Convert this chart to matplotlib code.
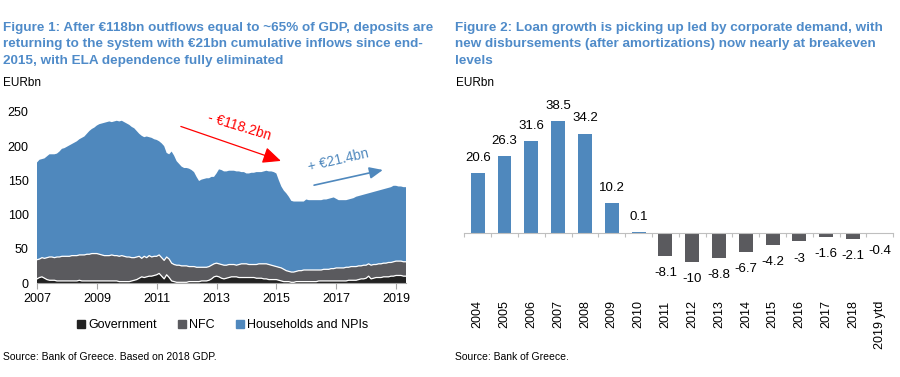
import numpy as np
import pandas as pd
import matplotlib
matplotlib.use('Agg')
import matplotlib.pyplot as plt
import matplotlib.transforms as mtransforms
from matplotlib.lines import Line2D

plt.rcParams['font.family'] = ['Liberation Sans', 'DejaVu Sans']

# ---- Figure 1 data: deposits by sector, EURbn, monthly Jan-2007 .. May-2019
total = [176, 180, 181, 182, 185, 188, 188, 188, 189, 192, 196, 197,
         199, 201, 203, 205, 207, 210, 212, 214, 218, 222, 225, 227,
         230, 232, 233, 234, 235, 236, 235, 236, 237, 236, 237, 235,
         233, 231, 228, 226, 222, 218, 215, 213, 214, 213, 212, 210,
         209, 207, 204, 200, 190, 188, 192, 186, 178, 174, 170, 168,
         168, 167, 165, 162, 155, 149, 151, 152, 153, 153, 155, 155,
         160, 166, 165, 163, 163, 164, 164, 164, 163, 163, 162, 162,
         160, 160, 161, 161, 162, 162, 162, 163, 164, 163, 163, 162,
         160, 150, 141, 135, 131, 126, 120, 119, 119, 119, 119, 119,
         122, 121, 121, 121, 121, 121, 121, 122, 122, 123, 124, 125,
         123, 121, 121, 121, 121, 122, 123, 124, 126, 127, 128, 129,
         130, 131, 132, 133, 134, 135, 136, 137, 138, 139, 140, 142,
         142, 141, 141, 140, 140]
gov_nfc = [34, 35, 37, 36, 37, 38, 38, 37, 38, 38, 39, 39,
           39, 39, 40, 40, 40, 41, 41, 41, 42, 42, 43, 43,
           43, 42, 41, 40, 40, 40, 41, 40, 40, 39, 40, 39,
           38, 38, 37, 37, 38, 39, 36, 39, 37, 40, 38, 39,
           39, 41, 37, 33, 38, 35, 29, 27, 26, 26, 25, 25,
           25, 24, 24, 24, 23, 23, 23, 23, 23, 24, 26, 28,
           29, 28, 27, 26, 26, 27, 27, 27, 26, 27, 28, 28,
           28, 27, 27, 27, 27, 28, 28, 28, 28, 27, 26, 25,
           24, 23, 22, 20, 18, 17, 16, 16, 17, 18, 18, 19,
           19, 19, 19, 19, 19, 19, 19, 20, 20, 20, 21, 21,
           22, 22, 22, 22, 23, 23, 24, 24, 24, 25, 25, 26,
           26, 28, 26, 27, 27, 28, 28, 29, 29, 30, 30, 31,
           32, 32, 32, 31, 31]
government = [6, 8, 9, 7, 5, 4, 4, 4, 3, 3, 3, 3,
              3, 3, 3, 3, 3, 4, 3, 3, 3, 3, 3, 3,
              3, 3, 3, 3, 3, 3, 3, 3, 3, 2, 2, 2,
              2, 2, 3, 4, 5, 7, 9, 8, 9, 10, 10, 11,
              12, 14, 10, 6, 12, 8, 3, 2, 1, 1, 1, 1,
              1, 2, 2, 2, 2, 2, 3, 3, 3, 4, 6, 9,
              10, 9, 7, 6, 7, 8, 9, 9, 9, 8, 8, 8,
              8, 8, 8, 8, 7, 7, 7, 6, 6, 5, 5, 5,
              5, 4, 3, 2, 2, 2, 1, 1, 2, 2, 2, 2,
              2, 2, 2, 2, 2, 3, 3, 3, 3, 3, 3, 3,
              3, 3, 3, 3, 3, 4, 4, 4, 4, 5, 6, 6,
              7, 10, 6, 7, 8, 8, 8, 9, 9, 9, 10, 10,
              11, 11, 11, 10, 10]
months = pd.date_range('2007-01-01', periods=len(total), freq='MS')
t = months.year + (months.month - 1) / 12.0

# ---- Figure 2 data: net new loans, EURbn
years = ['2004', '2005', '2006', '2007', '2008', '2009', '2010', '2011',
         '2012', '2013', '2014', '2015', '2016', '2017', '2018', '2019 ytd']
loans = [20.6, 26.3, 31.6, 38.5, 34.2, 10.2, 0.1, -8.1,
         -10, -8.8, -6.7, -4.2, -3, -1.6, -2.1, -0.4]

BLUE = '#4f88bd'
GREY = '#5a5a5e'
DARK = '#222222'
TITLE = '#4f8bc9'

fig = plt.figure(figsize=(9, 3.77), dpi=100)

# ---------------- left chart
ax1 = fig.add_axes([37 / 900, 94 / 377, 369 / 900, 178 / 377])
gov = np.array(government, float)
nfc = np.array(gov_nfc, float) - gov
hh = np.array(total, float) - np.array(gov_nfc, float)
ax1.stackplot(t, gov, nfc, hh, colors=[DARK, GREY, BLUE], linewidth=0)
ax1.plot(t, gov, color='white', lw=0.9)
ax1.plot(t, gov + nfc, color='white', lw=0.9)
ax1.set_xlim(t[0], t[-1])
ax1.set_ylim(0, 260)
ax1.set_xticks(range(2007, 2020, 2))
ax1.set_yticks(range(0, 251, 50))
for s in ['top', 'right', 'left']:
  ax1.spines[s].set_visible(False)
ax1.spines['bottom'].set_color('#a6a6a6')
ax1.tick_params(axis='x', direction='out', length=4, color='#a6a6a6', labelsize=9, pad=3)
ax1.tick_params(axis='y', length=0, labelsize=9, pad=6)

ax1.annotate('', xy=(2015.24, 177), xytext=(2011.72, 230),
             arrowprops=dict(arrowstyle='-|>,head_length=1.1,head_width=0.5', color='red', lw=0.9))
ax1.text(2013.75, 228, '- €118.2bn', color='red', fontsize=10, rotation=-17,
         ha='center', va='center')
ax1.annotate('', xy=(2018.65, 166), xytext=(2016.17, 142),
             arrowprops=dict(arrowstyle='-|>,head_length=0.8,head_width=0.35', color=BLUE, lw=1.2))
ax1.text(2017.07, 180, '+ €21.4bn', color=BLUE, fontsize=10, rotation=13,
         ha='center', va='center')

handles = [Line2D([], [], ls='', marker='s', ms=6, color=c) for c in (DARK, GREY, BLUE)]
fig.legend(handles, ['Government', 'NFC', 'Households and NPIs'], loc='center',
           bbox_to_anchor=(222 / 900, 1 - 325 / 377), ncol=3, frameon=False,
           fontsize=9, handlelength=0.8, handletextpad=0.2, columnspacing=1.6)

# ---------------- right chart
ax2 = fig.add_axes([464.3 / 900, 80.5 / 377, 429 / 900, 197.2 / 377])
x = np.arange(len(years))
cols = [BLUE if v >= 0 else GREY for v in loans]
ax2.bar(x, loans, width=0.52, color=cols)
ax2.set_xlim(-0.5, len(years) - 0.5)
ax2.set_ylim(-22, 46)
for s in ['top', 'right', 'left']:
  ax2.spines[s].set_visible(False)
ax2.spines['bottom'].set_position(('data', 0))
ax2.spines['bottom'].set_color('#bfbfbf')
ax2.set_yticks([])
ax2.set_xticks(np.arange(-0.5, len(years), 1))
ax2.tick_params(axis='x', direction='out', length=3, color='#bfbfbf', labelbottom=False)
for i, v in enumerate(loans):
  off = 6.5 if v >= 0 else -8
  ax2.annotate(f'{v:g}', (i, v), xytext=(0, off), textcoords='offset points',
               ha='center', va='bottom' if v >= 0 else 'top', fontsize=9.5)
trans = mtransforms.blended_transform_factory(ax2.transData, ax2.transAxes)
for i, lab in enumerate(years):
  ax2.text(i, -0.02, lab, transform=trans, rotation=90, ha='center', va='top', fontsize=9)

# ---------------- titles and notes
fig.text(3 / 900, 1 - 22 / 377,
         'Figure 1: After €118bn outflows equal to ~65% of GDP, deposits are\n'
         'returning to the system with €21bn cumulative inflows since end-\n'
         '2015, with ELA dependence fully eliminated',
         color=TITLE, fontsize=9.7, fontweight='bold', va='top', linespacing=1.5)
fig.text(455 / 900, 1 - 22 / 377,
         'Figure 2: Loan growth is picking up led by corporate demand, with\n'
         'new disbursements (after amortizations) now nearly at breakeven\n'
         'levels',
         color=TITLE, fontsize=9.7, fontweight='bold', va='top', linespacing=1.5)
fig.text(3 / 900, 1 - 83 / 377, 'EURbn', fontsize=8.5, va='center')
fig.text(456 / 900, 1 - 83 / 377, 'EURbn', fontsize=8.5, va='center')
fig.text(3 / 900, 1 - 357 / 377, 'Source: Bank of Greece. Based on 2018 GDP.', fontsize=7.5, va='center')
fig.text(455 / 900, 1 - 357 / 377, 'Source: Bank of Greece.', fontsize=7.5, va='center')

fig.savefig('out.png', dpi=100)
